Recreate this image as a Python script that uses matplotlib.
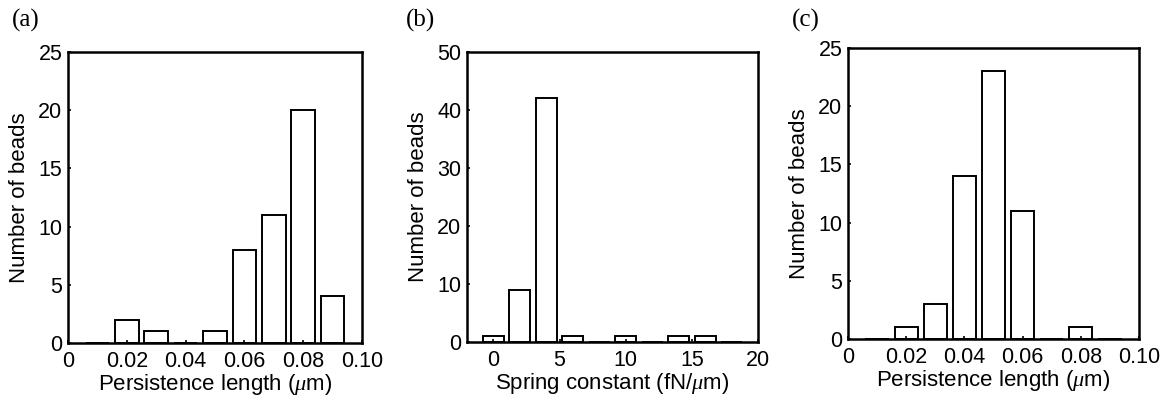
import numpy as np
import matplotlib.pyplot as plt

plt.rcParams['font.family'] = ['Liberation Sans', 'DejaVu Sans']
plt.rcParams['mathtext.fontset'] = 'custom'
plt.rcParams['mathtext.it'] = 'Liberation Serif:italic'

# (a) persistence length histogram
a_centers = [0.01, 0.02, 0.03, 0.04, 0.05, 0.06, 0.07, 0.08, 0.09]
a_counts = [0, 2, 1, 0, 1, 8, 11, 20, 4]

# (b) spring constant histogram
b_centers = [0, 2, 4, 6, 8, 10, 12, 14, 16, 18]
b_counts = [1, 9, 42, 1, 0, 1, 0, 1, 1, 0]

# (c) persistence length histogram
c_centers = [0.01, 0.02, 0.03, 0.04, 0.05, 0.06, 0.07, 0.08, 0.09]
c_counts = [0, 1, 3, 14, 23, 11, 0, 1, 0]

fig = plt.figure(figsize=(11.69, 4.04), dpi=100)
W, H = 1169, 404

def make_ax(l, r, t, b):
    return fig.add_axes([l / W, 1 - b / H, (r - l) / W, (b - t) / H])

def style(ax):
    for s in ax.spines.values():
        s.set_linewidth(1.8)
    ax.tick_params(direction='in', length=2.5, width=1.2, labelsize=15.5,
                   top=False, right=False)
    ax.tick_params(axis='x', pad=6)
    ax.tick_params(axis='y', pad=4)

def labels(ax, xl):
    ax.set_xlabel(xl, fontsize=16, labelpad=0)
    ax.set_ylabel('Number of beads', fontsize=16, labelpad=6)

ax1 = make_ax(68, 362, 52, 343)
ax1.bar(a_centers, a_counts, width=0.008, facecolor='white', edgecolor='black', linewidth=1.4)
ax1.set_xlim(0, 0.1)
ax1.set_ylim(0, 25)
ax1.set_xticks([0, 0.02, 0.04, 0.06, 0.08, 0.1])
ax1.set_xticklabels(['0', '0.02', '0.04', '0.06', '0.08', '0.10'])
ax1.set_yticks([0, 5, 10, 15, 20, 25])
labels(ax1, r'Persistence length ($\mu$m)')
style(ax1)

ax2 = make_ax(467, 758, 52, 342)
ax2.bar(b_centers, b_counts, width=1.6, facecolor='white', edgecolor='black', linewidth=1.4)
ax2.set_xlim(-2, 20)
ax2.set_ylim(0, 50)
ax2.set_xticks([0, 5, 10, 15, 20])
ax2.set_yticks([0, 10, 20, 30, 40, 50])
labels(ax2, r'Spring constant (fN/$\mu$m)')
style(ax2)

ax3 = make_ax(848, 1139, 48, 339)
ax3.bar(c_centers, c_counts, width=0.008, facecolor='white', edgecolor='black', linewidth=1.4)
ax3.set_xlim(0, 0.1)
ax3.set_ylim(0, 25)
ax3.set_xticks([0, 0.02, 0.04, 0.06, 0.08, 0.1])
ax3.set_xticklabels(['0', '0.02', '0.04', '0.06', '0.08', '0.10'])
ax3.set_yticks([0, 5, 10, 15, 20, 25])
labels(ax3, r'Persistence length ($\mu$m)')
style(ax3)

for x, lab in [(12, '(a)'), (406, '(b)'), (792, '(c)')]:
    fig.text(x / W, 1 - 20 / H, lab, fontsize=18, family='Liberation Serif', va='center', ha='left')

fig.savefig('out.png', dpi=100)
